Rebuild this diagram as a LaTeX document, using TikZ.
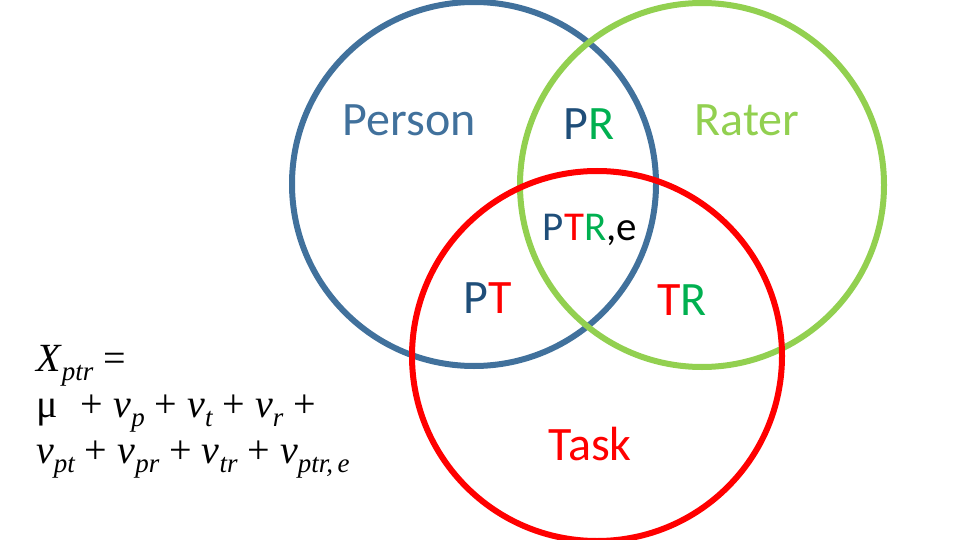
\documentclass[tikz,border=0pt]{standalone}
\usepackage{fontspec}
\setmainfont{Carlito}
\newfontfamily\tms{Liberation Serif}
\definecolor{cb}{HTML}{41719C}
\definecolor{cg}{HTML}{92D050}
\definecolor{cr}{HTML}{FF0000}
\definecolor{tb}{HTML}{1F4E79}
\definecolor{tg}{HTML}{00B050}
\tikzset{ring/.style={line width=6pt},lbl/.style={font=\fontsize{48}{48}\selectfont,inner sep=0pt}}
\newcommand{\vv}[1]{\textit{v}\raisebox{-0.22em}{\fontsize{27}{27}\selectfont\itshape #1}}
\begin{document}
\begin{tikzpicture}[x=1pt,y=-1pt]
\useasboundingbox (0,0) rectangle (960,540);
\draw[ring,cb] (474,184) circle (182);
\draw[ring,cg] (702,185) circle (182);
\draw[ring,cr] (597,356) circle (185);
\node[lbl,text=cb] (person) at (409,120) {Person};
\node[lbl,text=cg] (rater) at (747,120) {Rater};
\node[lbl] (pr) at (589,124) {\textcolor{tb}{P}\textcolor{tg}{R}};
\node[lbl,font=\fontsize{41}{41}\selectfont] (ptr) at (590,230) {\textcolor{tb}{P}\textcolor{cr}{T}\textcolor{tg}{R}\textcolor{black}{,e}};
\node[lbl,text=tb] (pt) at (488,298) {P\textcolor{cr}{T}};
\node[lbl] (tr) at (682,300) {\textcolor{cr}{T}\textcolor{tg}{R}};
\node[lbl,text=cr] (task) at (590,444) {Task};
\node[inner sep=0pt,anchor=north west,align=left,font=\tms\fontsize{40}{46}\selectfont] (eq) at (36,345)
{\textit{X}\raisebox{-0.22em}{\fontsize{27}{27}\selectfont\itshape ptr} =\\
μ\,\, + \vv{p} + \vv{t} + \vv{r} +\\
\vv{pt} + \vv{pr} + \vv{tr} + \vv{ptr,\,e}};
\end{tikzpicture}
\end{document}
